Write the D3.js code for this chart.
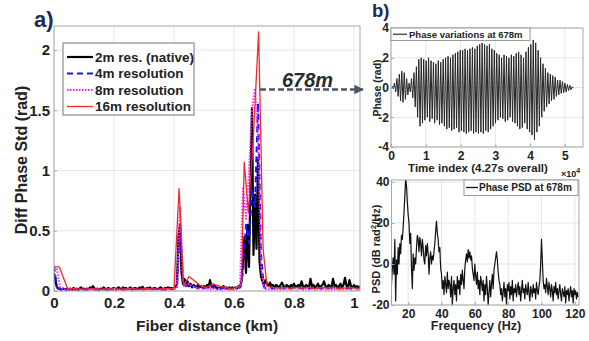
<!DOCTYPE html>
<html><head><meta charset="utf-8">
<script src="https://cdn.jsdelivr.net/npm/d3@7"></script>
<style>
body{margin:0;background:#fff}
text{font-family:"Liberation Sans",Arial,sans-serif;font-weight:bold;fill:#222}
</style>
</head><body>
<svg id="c" width="589" height="341"></svg>
<script>
// ---------- Panel a data (Diff Phase Std vs fiber distance, km) ----------
const stepBlack = 0.005;
const stdBlack = [
0.15,0.08,0.03,0.02,0.02,0.01,0.02,0.015,0.01,0.02,
0.015,0.02,0.01,0.025,0.015,0.02,0.01,0.02,0.03,0.015,
0.02,0.01,0.02,0.015,0.03,0.02,0.04,0.02,0.015,0.02,
0.01,0.02,0.015,0.03,0.02,0.01,0.025,0.02,0.015,0.02,
0.025,0.015,0.02,0.03,0.02,0.015,0.03,0.02,0.025,0.015,
0.02,0.03,0.015,0.02,0.025,0.02,0.015,0.03,0.02,0.035,
0.02,0.015,0.025,0.02,0.03,0.015,0.02,0.025,0.02,0.015,
0.02,0.03,0.02,0.015,0.025,0.02,0.03,0.02,0.025,0.02,
0.02,0.03,0.06,0.45,0.55,0.15,0.06,0.1,0.05,0.08,
0.04,0.06,0.03,0.05,0.04,0.03,0.05,0.03,0.04,0.03,
0.04,0.03,0.05,0.03,0.09,0.04,0.03,0.05,0.03,0.02,
0.03,0.02,0.03,0.04,0.02,0.03,0.02,0.03,0.02,0.03,
0.02,0.03,0.02,0.04,0.03,0.08,0.25,0.45,0.15,0.55,
0.2,0.9,1.52,0.3,0.8,0.35,1.1,0.25,0.12,0.08,
0.05,0.09,0.06,0.04,0.07,0.04,0.05,0.03,0.05,0.04,
0.03,0.05,0.07,0.04,0.03,0.05,0.04,0.03,0.05,0.04,
0.06,0.03,0.04,0.05,0.03,0.08,0.04,0.03,0.05,0.04,
0.03,0.1,0.04,0.05,0.03,0.04,0.06,0.03,0.04,0.05,
0.08,0.04,0.03,0.05,0.04,0.03,0.1,0.04,0.05,0.03,
0.04,0.06,0.03,0.05,0.11,0.04,0.03,0.09,0.04,0.03,
0.05,0.03,0.04,0.03,0.04
];
const stepBlue = 0.01;
const stdBlue = [
0.21,0.03,0.02,0.01,0.015,0.01,0.02,0.01,0.015,0.01,
0.015,0.01,0.02,0.01,0.015,0.01,0.02,0.015,0.01,0.02,
0.01,0.015,0.02,0.01,0.015,0.02,0.01,0.015,0.02,0.01,
0.015,0.02,0.01,0.015,0.02,0.01,0.015,0.01,0.02,0.015,
0.02,0.05,0.55,0.06,0.04,0.05,0.03,0.04,0.02,0.03,
0.02,0.03,0.02,0.04,0.02,0.03,0.02,0.03,0.02,0.02,
0.02,0.02,0.03,0.15,0.55,0.4,0.85,0.7,1.56,0.3,
0.03,0.02,0.03,0.02,0.025,0.02,0.03,0.02,0.025,0.02,
0.03,0.02,0.025,0.02,0.03,0.02,0.025,0.02,0.03,0.02,
0.025,0.02,0.03,0.02,0.025,0.02,0.03,0.02,0.025,0.02,
0.02,0.025,0.02
];
const stepMagenta = 0.01;
const stdMagenta = [
0.2,0.18,0.03,0.01,0.01,0.01,0.01,0.01,0.01,0.01,
0.01,0.01,0.012,0.01,0.01,0.012,0.01,0.01,0.01,0.012,
0.01,0.01,0.012,0.01,0.01,0.01,0.012,0.01,0.01,0.01,
0.012,0.01,0.01,0.01,0.012,0.01,0.01,0.012,0.01,0.01,
0.01,0.03,0.7,0.08,0.05,0.06,0.04,0.03,0.02,0.02,
0.02,0.02,0.01,0.02,0.01,0.02,0.01,0.02,0.01,0.01,
0.01,0.02,0.05,0.85,0.6,1.0,1.5,1.68,1.3,0.2,
0.02,0.01,0.015,0.01,0.02,0.01,0.015,0.01,0.02,0.01,
0.015,0.01,0.02,0.01,0.015,0.01,0.02,0.01,0.015,0.01,
0.02,0.01,0.015,0.01,0.02,0.01,0.015,0.01,0.02,0.01,
0.015,0.01,0.01
];
const distRed = [0,0.018,0.045,0.07,0.1,0.13,0.16,0.19,0.22,0.25,0.28,0.31,0.34,0.37,0.40,
0.417,0.432,0.45,0.47,0.49,0.51,0.53,0.55,0.57,0.59,0.61,0.625,0.634,0.648,0.665,
0.682,0.697,0.71,0.73,0.75,0.77,0.79,0.81,0.83,0.85,0.87,0.89,0.91,0.93,0.95,0.97,0.99,1.01,1.02];
const stdRed = [0.2,0.2,0.02,0.02,0.015,0.02,0.015,0.02,0.015,0.02,0.015,0.02,0.015,0.02,0.02,
0.85,0.04,0.12,0.08,0.04,0.03,0.06,0.04,0.03,0.02,0.03,0.05,1.07,0.65,1.3,
2.15,0.35,0.04,0.03,0.025,0.03,0.02,0.03,0.025,0.03,0.02,0.03,0.025,0.03,0.02,0.025,0.03,0.02,0.02];

const seriesNames = ["2m res. (native)","4m resolution","8m resolution","16m resolution"];
const xTicksA = [0,0.2,0.4,0.6,0.8,1];
const yTicksA = [0,0.5,1,1.5,2];

// ---------- Panel b top: phase variations (time index x1e4) ----------
const phaseT0 = 0.03, phaseDT = 0.07;
const phaseMax = [0.1,0.3,0.6,0.9,1.1,1.0,0.6,0.3,0.6,1.0,
1.4,1.9,2.0,1.9,1.8,2.0,1.8,1.7,1.6,1.8,
1.7,1.9,2.0,2.1,2.0,2.2,2.3,2.4,2.5,2.5,
2.6,2.5,2.6,2.7,2.6,2.8,2.9,3.0,2.9,2.8,
2.9,2.6,2.5,2.3,2.2,2.0,2.2,2.1,2.0,2.2,
2.1,2.3,2.4,2.2,2.0,2.4,2.7,2.9,3.2,3.0,
2.5,2.0,1.6,1.3,1.0,0.9,0.8,0.7,0.5,0.5,
0.4,0.3,0.2,0.15,0.05];
const phaseMin = [-0.1,-0.3,-0.6,-0.9,-1.0,-0.8,-0.5,-0.3,-0.7,-1.3,
-2.0,-2.6,-2.4,-2.2,-2.0,-2.3,-2.1,-2.4,-2.2,-2.5,
-2.4,-2.6,-2.8,-2.7,-2.9,-2.8,-2.7,-3.0,-2.9,-3.0,
-3.1,-3.0,-2.9,-3.1,-3.0,-3.1,-3.0,-3.1,-2.9,-3.0,
-2.8,-2.6,-2.4,-2.2,-2.0,-2.1,-2.3,-2.2,-2.0,-2.3,
-2.4,-2.6,-2.8,-2.7,-2.4,-2.8,-3.0,-3.2,-3.5,-3.0,
-2.6,-2.0,-1.6,-1.3,-1.1,-0.9,-0.8,-0.6,-0.5,-0.4,
-0.35,-0.3,-0.2,-0.15,-0.05];
const xTicksB1 = [0,1,2,3,4,5];
const yTicksB1 = [-4,-2,0,2,4];

// ---------- Panel b bottom: phase PSD (dB rad^2/Hz) ----------
const psdF0 = 10, psdDF = 0.5;
const psd = [
-10,-2,3,-5,12,-18,2,-5,8,0,
10,5,14,12,18,25,33,42,38,30,
24,20,10,15,-2,-12,5,-3,3,0,
8,14,12,6,13,10,4,12,8,2,
0,9,4,10,5,-5,3,6,0,4,
2,6,10,16,21,15,12,6,8,-2,
-5,-12,-8,-15,-6,-10,-14,-4,-12,-8,
-10,-16,-6,-20,-12,-8,-15,-10,-18,-6,
-12,-8,-15,-5,-10,-3,-8,-12,-2,2,
5,1,7,3,6,2,4,-2,-5,-8,
0,-6,-10,-4,-12,-8,-15,-6,-9,-13,
-8,-18,-10,-15,-6,-12,-20,-14,-8,-16,
-10,-5,-12,-3,0,3,6,2,-4,-8,
-10,-15,-12,-18,-14,-9,-16,-12,-20,-10,
-13,-9,-17,-11,-15,-8,-18,-12,-14,-10,
-16,-12,-9,-15,-11,-18,-13,-8,-14,-12,
-17,-10,-13,-15,-9,-14,-18,-11,-13,-16,
-10,-14,-12,-17,-9,-13,-15,-11,-8,0,
12,2,-8,-12,-10,-14,-7,-11,-15,-9,
-12,-16,-10,-13,-18,-11,-14,-9,-15,-12,
-17,-13,-10,-15,-18,-12,-14,-16,-11,-19,
-13,-15,-12,-18,-14,-11,-16,-13,-19,-12,
-15,-13,-17,-14,-16];
const xTicksB2 = [20,40,60,80,100,120];
const yTicksB2 = [-20,0,20,40];

// ---------- drawing ----------
const svg = d3.select("#c");
const fmt = d => String(d);

function frame(x, y, xt, yt, opt) {
  const [xa, xb] = x.range(), [yb, ya] = y.range();
  const g = svg.append("g");
  g.selectAll(".gx").data(xt).join("line")
    .attr("x1", d => x(d)).attr("x2", d => x(d)).attr("y1", ya).attr("y2", yb)
    .attr("stroke", "#e6e6e6").attr("stroke-width", 1);
  g.selectAll(".gy").data(yt).join("line")
    .attr("y1", d => y(d)).attr("y2", d => y(d)).attr("x1", xa).attr("x2", xb)
    .attr("stroke", "#e6e6e6").attr("stroke-width", 1);
  const id = "clip" + Math.round(xa) + "_" + Math.round(ya);
  svg.append("clipPath").attr("id", id).append("rect")
    .attr("x", xa).attr("y", ya).attr("width", xb - xa).attr("height", yb - ya);
  const data = svg.append("g").attr("clip-path", `url(#${id})`);
  const top = svg.append("g");
  top.append("rect").attr("x", xa).attr("y", ya).attr("width", xb - xa).attr("height", yb - ya)
    .attr("fill", "none").attr("stroke", "#a8a8a8").attr("stroke-width", 1);
  top.append("g").attr("transform", `translate(0,${yb})`)
    .call(d3.axisBottom(x).tickValues(xt).tickSize(-3).tickFormat(fmt).tickPadding(opt.xpad))
    .call(a => { a.select(".domain").remove(); a.selectAll("line").attr("stroke", "#a8a8a8");
      a.selectAll("text").attr("font-size", opt.fs).attr("fill", "#222"); });
  top.append("g").attr("transform", `translate(${xa},0)`)
    .call(d3.axisLeft(y).tickValues(yt).tickSize(-3).tickFormat(fmt).tickPadding(opt.ypad))
    .call(a => { a.select(".domain").remove(); a.selectAll("line").attr("stroke", "#a8a8a8");
      a.selectAll("text").attr("font-size", opt.fs).attr("fill", "#222"); });
  return {data, top};
}

// Panel a
const xA = d3.scaleLinear([0, 1.02], [54, 360]);
const yA = d3.scaleLinear([0, 2.2], [291, 26]);
const fa = frame(xA, yA, xTicksA, yTicksA, {fs: 15, xpad: 6, ypad: 4});
const lineA = d3.line().x(d => xA(d[0])).y(d => yA(d[1]));
const blackPts = stdBlack.map((v, i) => [i * stepBlack, v]);
const bluePts = stdBlue.map((v, i) => [i * stepBlue, v]);
const magPts = stdMagenta.map((v, i) => [i * stepMagenta, v]);
const redPts = stdRed.map((v, i) => [distRed[i], v]);
const styles = [
  {c: "#000000", w: 2.2, dash: null},
  {c: "#1414ff", w: 2, dash: "6,4"},
  {c: "#ff22ff", w: 2, dash: "1.5,1.5"},
  {c: "#f02a2a", w: 1.3, dash: null}
];
[blackPts, bluePts, magPts, redPts].forEach((pts, k) => {
  fa.data.append("path").attr("d", lineA(pts)).attr("fill", "none")
    .attr("stroke", styles[k].c).attr("stroke-width", styles[k].w)
    .attr("stroke-dasharray", styles[k].dash).attr("stroke-linejoin", "round");
});
// legend a
const lg = svg.append("g");
lg.append("rect").attr("x", 63).attr("y", 43).attr("width", 131).attr("height", 72)
  .attr("fill", "#fff").attr("stroke", "#777").attr("stroke-width", 1);
seriesNames.forEach((n, k) => {
  const yy = 57 + k * 16.5;
  lg.append("line").attr("x1", 67).attr("x2", 93).attr("y1", yy).attr("y2", yy)
    .attr("stroke", styles[k].c).attr("stroke-width", styles[k].w).attr("stroke-dasharray", styles[k].dash);
  lg.append("text").attr("x", 95).attr("y", yy + 4.8).attr("font-size", 13.5).text(n);
});
svg.append("text").attr("transform", "translate(27,160) rotate(-90)").attr("text-anchor", "middle")
  .attr("font-size", 16).text("Diff Phase Std (rad)");
svg.append("text").attr("x", 207).attr("y", 331).attr("text-anchor", "middle")
  .attr("font-size", 15.5).text("Fiber distance (km)");
svg.append("text").attr("x", 34).attr("y", 27).attr("font-size", 22).style("fill", "#1c2a55").text("a)");
svg.append("text").attr("x", 372).attr("y", 16.8).attr("font-size", 18.5).style("fill", "#1c2a55").text("b)");

// arrow + 678m
svg.append("defs").append("marker").attr("id", "ah").attr("viewBox", "0 0 10 10")
  .attr("refX", 9).attr("refY", 5).attr("markerWidth", 4).attr("markerHeight", 4).attr("orient", "auto")
  .append("path").attr("d", "M0,0L10,5L0,10Z").attr("fill", "#4b5566");
svg.append("line").attr("x1", 260).attr("x2", 363).attr("y1", 89.5).attr("y2", 89.5)
  .attr("stroke", "#4b5566").attr("stroke-width", 2.4).attr("stroke-dasharray", "6,3")
  .attr("marker-end", "url(#ah)");
svg.append("text").attr("x", 282).attr("y", 87).attr("font-size", 20).attr("font-style", "italic")
  .style("fill", "#2a2a2a").text("678m");

// Panel b top
const xB1 = d3.scaleLinear([0, 5.52], [391, 583]);
const yB1 = d3.scaleLinear([-4, 4], [147, 28]);
const fb1 = frame(xB1, yB1, xTicksB1, yTicksB1, {fs: 12, xpad: 4, ypad: 2});
const phasePts = [];
phaseMax.forEach((v, i) => {
  const t = phaseT0 + i * phaseDT;
  phasePts.push([t, v]);
  phasePts.push([t + phaseDT / 2, phaseMin[i]]);
});
fb1.data.append("path").attr("d", d3.line().x(d => xB1(d[0])).y(d => yB1(d[1]))(phasePts))
  .attr("fill", "none").attr("stroke", "#262626").attr("stroke-width", 1);
const l1 = svg.append("g");
l1.append("rect").attr("x", 391).attr("y", 28).attr("width", 139).attr("height", 12.5)
  .attr("fill", "#fff").attr("stroke", "#999");
l1.append("line").attr("x1", 393).attr("x2", 407).attr("y1", 34.3).attr("y2", 34.3).attr("stroke", "#555").attr("stroke-width", 1.5);
l1.append("text").attr("x", 409).attr("y", 37.7).attr("font-size", 9.5).text("Phase variations at 678m");
svg.append("text").attr("transform", "translate(381,88) rotate(-90)").attr("text-anchor", "middle")
  .attr("font-size", 10.5).text("Phase (rad)");
svg.append("text").attr("x", 478).attr("y", 171.5).attr("text-anchor", "middle")
  .attr("font-size", 11.5).text("Time index (4.27s overall)");
const xp = svg.append("text").attr("x", 561).attr("y", 177).attr("font-size", 9);
xp.append("tspan").text("×10");
xp.append("tspan").attr("dy", -4).attr("font-size", 7).text("4");

// Panel b bottom
const xB2 = d3.scaleLinear([10, 122.5], [391.5, 579]);
const yB2 = d3.scaleLinear([-20, 41], [305, 180]);
const fb2 = frame(xB2, yB2, xTicksB2, yTicksB2, {fs: 12, xpad: 4, ypad: 2});
const psdPts = psd.map((v, i) => [psdF0 + i * psdDF, v]);
fb2.data.append("path").attr("d", d3.line().x(d => xB2(d[0])).y(d => yB2(d[1]))(psdPts))
  .attr("fill", "none").attr("stroke", "#111").attr("stroke-width", 1.2).attr("stroke-linejoin", "round");
const l2 = svg.append("g");
l2.append("rect").attr("x", 464).attr("y", 180).attr("width", 114).attr("height", 15.5)
  .attr("fill", "#fff").attr("stroke", "#999");
l2.append("line").attr("x1", 466).attr("x2", 478).attr("y1", 187.5).attr("y2", 187.5).attr("stroke", "#111").attr("stroke-width", 1.3);
l2.append("text").attr("x", 479).attr("y", 191.3).attr("font-size", 10).text("Phase PSD at 678m");
const yl2 = svg.append("text").attr("transform", "translate(380,249) rotate(-90)").attr("text-anchor", "middle")
  .attr("font-size", 11);
yl2.append("tspan").text("PSD (dB rad");
yl2.append("tspan").attr("dy", -4).attr("font-size", 8).text("2");
yl2.append("tspan").attr("dy", 4).text("/Hz)");
svg.append("text").attr("x", 476).attr("y", 330).attr("text-anchor", "middle")
  .attr("font-size", 12.5).text("Frequency (Hz)");
</script>
</body></html>
